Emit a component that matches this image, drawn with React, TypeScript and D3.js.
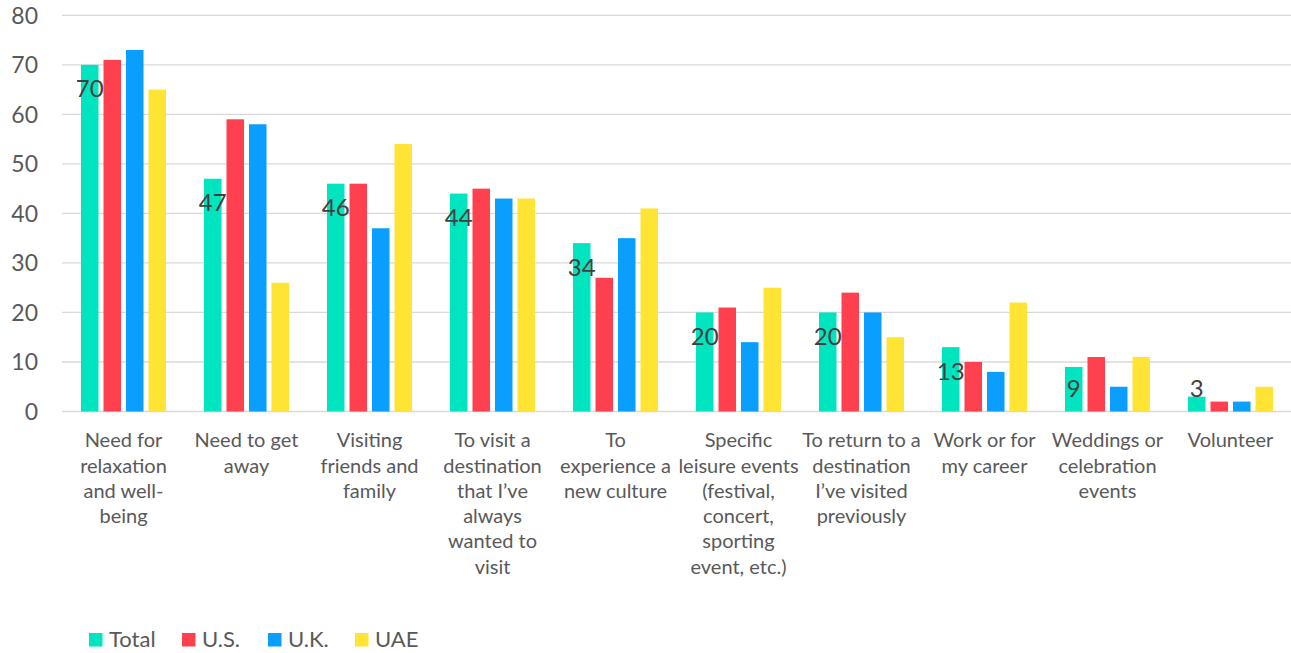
import React from "react";
import * as d3 from "d3";

const categories: string[][] = [
  ["Need for", "relaxation", "and well-", "being"],
  ["Need to get", "away"],
  ["Visiting", "friends and", "family"],
  ["To visit a", "destination", "that I\u2019ve", "always", "wanted to", "visit"],
  ["To", "experience a", "new culture"],
  ["Specific", "leisure events", "(festival,", "concert,", "sporting", "event, etc.)"],
  ["To return to a", "destination", "I\u2019ve visited", "previously"],
  ["Work or for", "my career"],
  ["Weddings or", "celebration", "events"],
  ["Volunteer"],
];
const seriesNames = ["Total", "U.S.", "U.K.", "UAE"];
const totalValues = [70, 47, 46, 44, 34, 20, 20, 13, 9, 3];
const usValues = [71, 59, 46, 45, 27, 21, 24, 10, 11, 2];
const ukValues = [73, 58, 37, 43, 35, 14, 20, 8, 5, 2];
const uaeValues = [65, 26, 54, 43, 41, 25, 15, 22, 11, 5];
const yTicks = [0, 10, 20, 30, 40, 50, 60, 70, 80];
const colors = ["#00E5BF", "#FF414F", "#0A9EFF", "#FFE433"];

const W = 1291;
const H = 653;
const FONT = "Lato, 'Open Sans', sans-serif";

export default function App() {
  const series = [totalValues, usValues, ukValues, uaeValues];
  const x = d3
    .scaleBand<number>()
    .domain(d3.range(categories.length))
    .range([62, 1292])
    .paddingInner(0)
    .paddingOuter(0);
  const y = d3.scaleLinear().domain([0, 80]).range([411.5, 15.3]);
  const GROUP = 85;
  const inner = d3
    .scaleBand<number>()
    .domain(d3.range(series.length))
    .range([0, GROUP])
    .paddingInner(0.222)
    .paddingOuter(0);
  const groupOffset = (x.bandwidth() - GROUP) / 2;

  const legendX = [89, 182, 268, 355];

  return (
    <svg
      width={W}
      height={H}
      style={{ position: "absolute", left: 0, top: 0, background: "#fff" }}
      fontFamily={FONT}
    >
      {yTicks.map((t) => (
        <g key={t}>
          <line x1={62} x2={W} y1={y(t)} y2={y(t)} stroke="#D9D9D9" strokeWidth={1.3} />
          <text
            x={38}
            y={y(t)}
            dy="0.36em"
            textAnchor="end"
            fontSize={23}
            fill="#595959"
          >
            {t}
          </text>
        </g>
      ))}
      {categories.map((_, ci) => (
        <g key={ci} transform={`translate(${(x(ci) as number) + groupOffset},0)`}>
          {series.map((vals, si) => (
            <rect
              key={si}
              x={inner(si)}
              y={y(vals[ci])}
              width={inner.bandwidth()}
              height={y(0) - y(vals[ci])}
              fill={colors[si]}
            />
          ))}
        </g>
      ))}
      {totalValues.map((v, ci) => {
        const cx = (x(ci) as number) + groupOffset + (inner(0) as number) + inner.bandwidth() / 2;
        const cy = Math.min(y(v) + 24, y(0) - 23);
        return (
          <text
            key={ci}
            x={cx}
            y={cy}
            dy="0.36em"
            textAnchor="middle"
            fontSize={24}
            fill="#404040"
          >
            {v}
          </text>
        );
      })}
      {categories.map((lines, ci) => {
        const cx = (x(ci) as number) + x.bandwidth() / 2;
        return (
          <text key={ci} textAnchor="middle" fontSize={20} fill="#595959">
            {lines.map((l, li) => (
              <tspan key={li} x={cx} y={440 + li * 25.3} dy="0.36em">
                {l}
              </tspan>
            ))}
          </text>
        );
      })}
      {seriesNames.map((n, si) => (
        <g key={n}>
          <rect x={legendX[si]} y={633} width={13.5} height={13.5} fill={colors[si]} />
          <text x={legendX[si] + 20} y={639.5} dy="0.36em" fontSize={22} fill="#595959">
            {n}
          </text>
        </g>
      ))}
    </svg>
  );
}
